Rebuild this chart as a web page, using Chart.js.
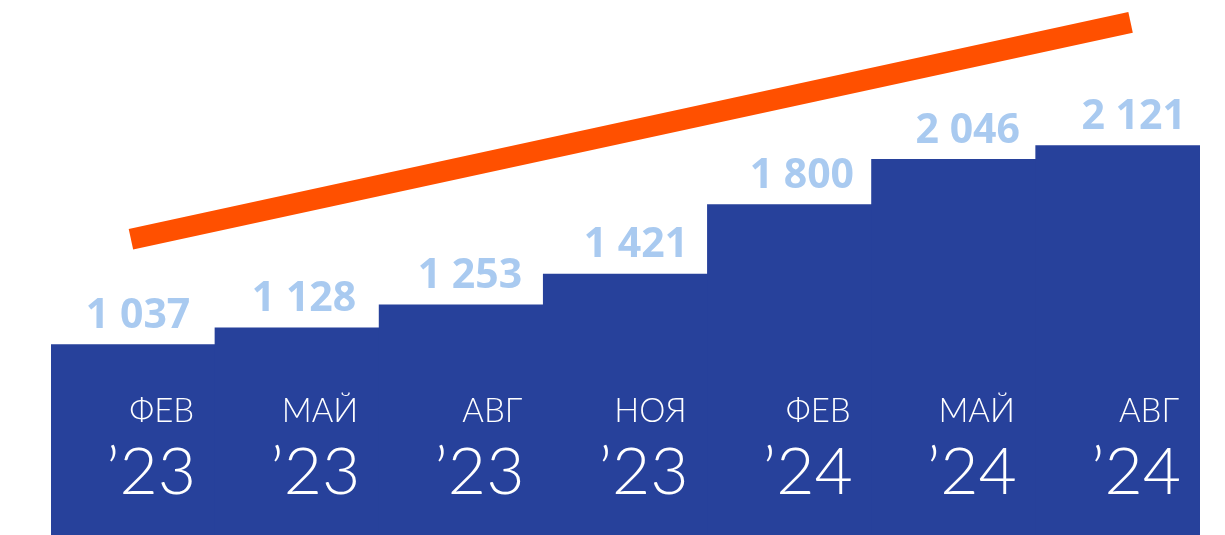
<!DOCTYPE html>
<html>
<head>
<meta charset="utf-8">
<script src="https://cdn.jsdelivr.net/npm/chart.js@4"></script>
<style>
  body { margin: 0; background: #fff; }
  canvas { display: block; }
</style>
</head>
<body>
<canvas id="chart" width="1225" height="535"></canvas>
<script>
// data
const months = ["ФЕВ", "МАЙ", "АВГ", "НОЯ", "ФЕВ", "МАЙ", "АВГ"];
const years = ["\u201923", "\u201923", "\u201923", "\u201923", "\u201924", "\u201924", "\u201924"];
const values = [1037, 1128, 1253, 1421, 1800, 2046, 2121];

// trend line ends (x in bar index units, y in value units)
const trendX = [-0.013, 6.077];
const trendY = [1612, 2794];

const barColor = "#27419b";
const labelColor = "#a9caf0";
const trendColor = "#ff5000";

function fmt(n) {
  return String(n).replace(/\B(?=(\d{3})+(?!\d))/g, " ");
}

// labels on bars
const barLabels = {
  id: "barLabels",
  afterDatasetsDraw(chart) {
    const ctx = chart.ctx;
    const meta = chart.getDatasetMeta(0);
    ctx.save();
    meta.data.forEach((bar, i) => {
      const right = bar.x + bar.width / 2 - 21;
      ctx.fillStyle = "#ffffff";
      ctx.textAlign = "right";
      ctx.textBaseline = "alphabetic";
      ctx.font = "300 33px Lato";
      ctx.fillText(months[i], right, 422);
      ctx.font = "300 66px Lato";
      ctx.fillText(years[i], right + 2, 494);

      ctx.fillStyle = labelColor;
      ctx.textAlign = "center";
      ctx.font = "bold 41px 'Open Sans'";
      ctx.fillText(fmt(values[i]), bar.x + 5 + 1.8 * i, bar.y - 17);
    });
    ctx.restore();
  }
};

new Chart(document.getElementById("chart"), {
  type: "bar",
  data: {
    labels: months,
    datasets: [
      {
        type: "bar",
        data: values,
        xAxisID: "x",
        backgroundColor: barColor,
        barPercentage: 1,
        categoryPercentage: 1,
        inflateAmount: 0.5,
        grouped: false,
        order: 1
      },
      {
        type: "line",
        data: trendX.map((x, i) => ({ x: x, y: trendY[i] })),
        xAxisID: "x2",
        borderColor: trendColor,
        borderWidth: 21,
        borderCapStyle: "butt",
        pointRadius: 0,
        fill: false,
        order: 0
      }
    ]
  },
  options: {
    responsive: false,
    animation: false,
    layout: { padding: { left: 51, right: 25, top: 0, bottom: 0 } },
    plugins: { legend: { display: false }, tooltip: { enabled: false } },
    scales: {
      x: { display: false },
      x2: { type: "linear", display: false, offset: false, min: -0.5, max: 6.5 },
      y: { display: false, min: 0, max: 2916 }
    }
  },
  plugins: [barLabels]
});
</script>
</body>
</html>
